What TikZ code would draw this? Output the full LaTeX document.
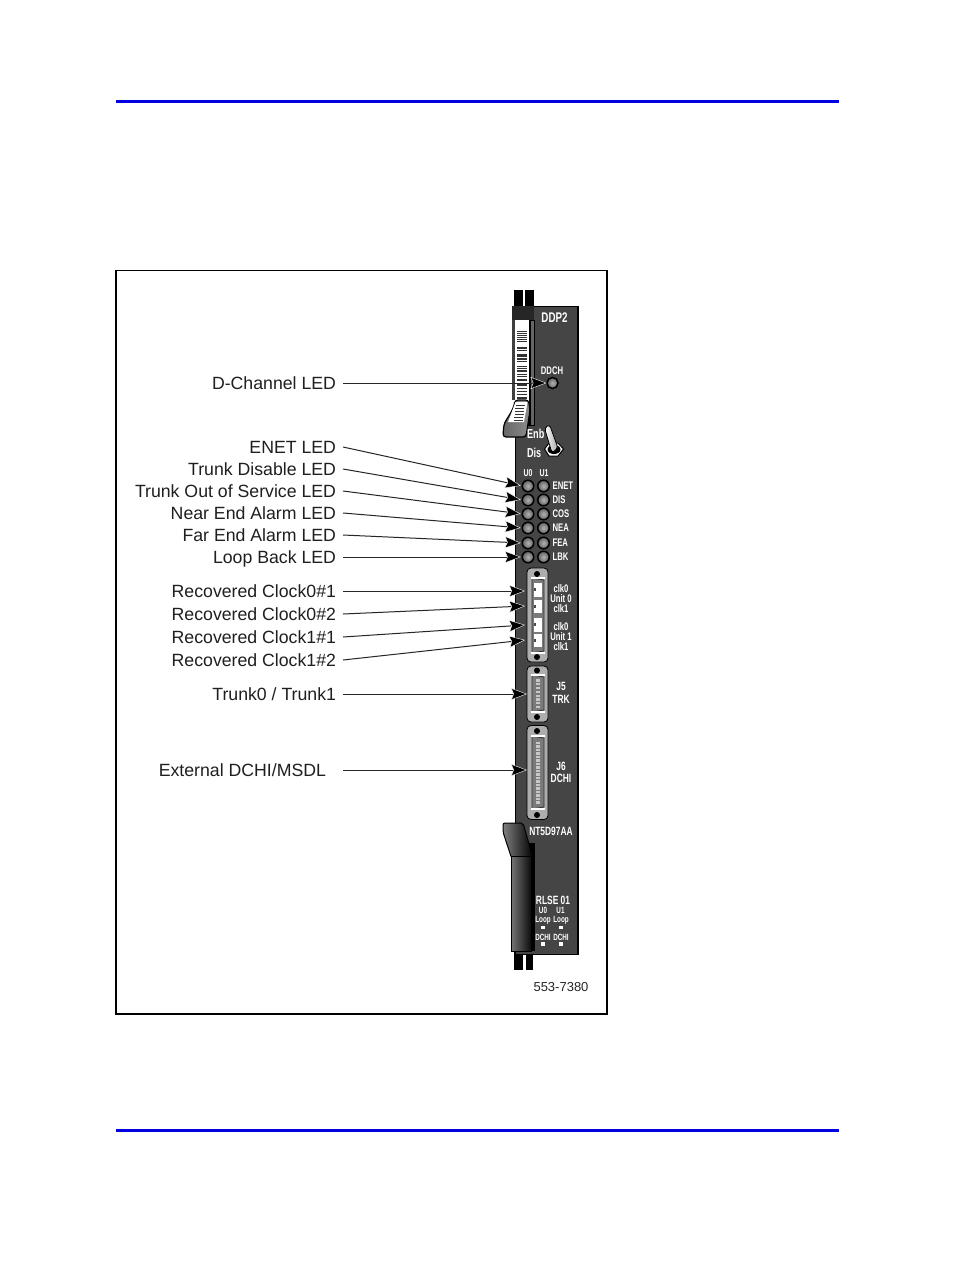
\documentclass[tikz,border=0pt]{standalone}
\usepackage{fontspec}
\setmainfont{Liberation Sans}
\usetikzlibrary{arrows.meta}
\definecolor{panelgray}{gray}{0.27}
\definecolor{plate}{gray}{0.68}
\definecolor{rulecol}{RGB}{0,0,225}
\tikzset{
  callout/.style={anchor=east,inner sep=0pt,outer xsep=7pt,text height=13pt,text depth=0pt,font=\fontsize{17.7}{20}\selectfont,text=black!88},
  pointer/.style={draw=black!85,line width=1pt,-{Stealth[length=16pt,width=12pt,inset=2.5pt,color=white,fill=black,line width=.4pt]}},
  silk/.style={inner sep=0pt,text=white,font=\fontsize{#1}{#1}\selectfont\bfseries,xscale=.7},
  silk/.default=11,
  ledring/.style={circle,draw=black,line width=1.5pt,inner color=black!30,outer color=black!62,minimum size=11.5pt,inner sep=0pt,outer sep=0pt},
  plateshape/.style={draw=black,line width=.8pt,fill=plate,rounded corners=4pt},
  shell/.style={draw=black!80,line width=.9pt,fill=black!52},
  screw/.style={circle,fill=black,inner sep=0pt,minimum size=6pt},
  pad/.style={fill=white,inner sep=0pt,minimum width=4.5pt,minimum height=3.5pt},
  pin/.style={fill=black!22,inner sep=0pt,minimum width=4pt,minimum height=2.2pt},
  flange/.style={draw=white,line width=1.3pt},
  strap/.style={fill=black},
}
\begin{document}
\begin{tikzpicture}[x=1pt,y=-1pt]
\useasboundingbox (0,0) rectangle (954,1272);
\fill[white] (0,0) rectangle (954,1272);
% page rules and frame
\fill[rulecol] (116,99.5) rectangle (838.5,102.5);
\fill[rulecol] (116,1128.5) rectangle (838.5,1131.5);
\draw[black,line width=1.4pt] (116,270.5) rectangle (607,1014);
% straps
\fill[strap] (514,290) rectangle (523,312);
\fill[strap] (525,290) rectangle (534,312);
\fill[strap] (514,945) rectangle (523,970);
\fill[strap] (526,945) rectangle (533,970);
% panel
\fill[panelgray,draw=black,line width=1.4pt] (515.5,306.5) rectangle (578,954.5);
% top latch
\fill[black!85] (512,306) rectangle (534,322);
\fill[black!60,draw=black,line width=1pt] (528,320) rectangle (534,425);
\fill[black] (528,320) rectangle (531,425);
\fill[black!75] (512,320) rectangle (515,400);
\fill[white] (515,320) rectangle (528.5,402);
\foreach \yy/\hh in {331/1,333/1,335/1,337/1,339/1,341/1,347/2,350/1,354/3,358/2,361/1,366/1,368/1,370/2,374/1,376/1,379/2,384/2,388/1,391/1,394/1,397/2}
  \fill[black!80] (516.5,\yy) rectangle (527,\yy+\hh);
\shade[left color=black!60,middle color=black!8,right color=black!45,draw=black,line width=1.2pt,rounded corners=3pt]
  (515,400) .. controls (513,412) and (505,420) .. (503.5,428) -- (503,437) -- (526,437) -- (530,410) -- (528.5,400) -- cycle;
\fill[white] (515.5,402) -- (508,422) -- (524,422) -- (527.5,402) -- cycle;
\foreach \yy in {405,408,411,414,417,420}
  \fill[black!80] (556-\yy/10,\yy) rectangle (565-\yy/10,\yy+1);
% bottom latch
\fill[black] (527,843) rectangle (535,951);
\shade[left color=black!50,right color=black,draw=black,line width=1pt,rounded corners=2pt]
  (503,823) -- (523,823) -- (533,858) -- (511.5,858) -- (503,832) -- cycle;
\shade[left color=black!55,middle color=black!75,right color=black!95,draw=black,line width=.8pt]
  (511.5,856) rectangle (531,951);
% panel text
\node[silk=14] (tDDP) at (554.5,318) {DDP2};
\node[silk=11] (tDDCH) at (552,371) {DDCH};
\node[ledring,minimum size=11pt] (ledD) at (552.5,383) {};
\node[silk=13,anchor=west] (tEnb) at (527,434) {Enb};
\node[silk=13,anchor=west] (tDis) at (527,453) {Dis};
% toggle
\fill[white,draw=black,line width=1pt] (544.5,449) -- (549,443) -- (558,443) -- (563.5,449) -- (558,456) -- (549,456) -- cycle;
\fill[black] (554,449.5) ellipse (6.5pt and 4.5pt);
\shade[left color=white,right color=black!35,draw=black,line width=.8pt,rounded corners=3pt] (544.5,428) -- (549.5,424.5) -- (558,448) -- (552,453) -- cycle;
% LED block
\node[silk=10] (tU0) at (528,473.5) {U0};
\node[silk=10] (tU1) at (544,473.5) {U1};
\foreach \n/\yy/\txt in {1/486/ENET,2/500/DIS,3/514/COS,4/528/NEA,5/543/FEA,6/557/LBK}{
  \node[ledring] (ledA\n) at (528,\yy) {};
  \node[ledring] (ledB\n) at (543.5,\yy) {};
  \node[silk=11,anchor=west] (led\txt) at (552.5,\yy) {\txt};
}
% Unit clock connector
\draw[plateshape] (527,568) rectangle (548,662);
\node[screw] (sa1) at (537,574) {};
\node[screw] (sa2) at (537,657) {};
\fill[shell] (532,578) -- (544,580) -- (544,651) -- (532,653) -- cycle;
\draw[flange] (531,578) -- (545,578);
\draw[flange] (531,653) -- (545,653);
\foreach \n/\yy in {1/590,2/606.5,3/625,4/640.5}{
  \node[fill=white,inner sep=0pt,minimum width=8pt,minimum height=13.5pt] (jack\n) at (537.5,\yy) {};
  \fill[black!70] (533.5,\yy-2) rectangle (536,\yy+1);
}
\node[silk=11] (c1) at (561,589) {clk0};
\node[silk=11] (c2) at (561,598.5) {Unit 0};
\node[silk=11] (c3) at (561,609) {clk1};
\node[silk=11] (c4) at (561,627) {clk0};
\node[silk=11] (c5) at (561,636.5) {Unit 1};
\node[silk=11] (c6) at (561,647) {clk1};
% J5
\draw[plateshape] (527,666) rectangle (548,722);
\node[screw] (sb1) at (537,670.5) {};
\node[screw] (sb2) at (537,717) {};
\fill[shell] (532,675) -- (544,677) -- (544,710) -- (532,712) -- cycle;
\draw[flange] (531,675) -- (545,675);
\draw[flange] (531,712) -- (545,712);
\foreach \k in {0,...,7}{\node[pin] (pinb\k) at (538,680.5+\k*3.8) {};}
\node[silk=12] (tJ5) at (561,686) {J5};
\node[silk=12] (tTRK) at (561,699) {TRK};
% J6
\draw[plateshape] (527,725.5) rectangle (548,819.5);
\node[screw] (sc1) at (537,731) {};
\node[screw] (sc2) at (537,815) {};
\fill[shell] (532,736) -- (544,738) -- (544,807) -- (532,809) -- cycle;
\draw[flange] (531,736) -- (545,736);
\draw[flange] (531,809) -- (545,809);
\foreach \k in {0,...,17}{\node[pin] (pinc\k) at (538,743+\k*3.5) {};}
\node[silk=12] (tJ6) at (561,766) {J6};
\node[silk=12] (tDCHI) at (561,778.5) {DCHI};
% bottom text
\node[silk=12] (tNT) at (551,831.5) {NT5D97AA};
\node[silk=12] (tRL) at (553,900) {RLSE 01};
\node[silk=9] (tb1) at (543,910.5) {U0};
\node[silk=9] (tb2) at (560.5,910.5) {U1};
\node[silk=9] (tb3) at (543,920) {Loop};
\node[silk=9] (tb4) at (561,920) {Loop};
\node[pad] (sq1) at (543,927.5) {};
\node[pad] (sq2) at (561,927.5) {};
\node[silk=9] (tb5) at (543,937) {DCHI};
\node[silk=9] (tb6) at (561,937) {DCHI};
\node[pad] (sq3) at (543,944) {};
\node[pad] (sq4) at (561,944) {};
% pointer ends on the connectors
\coordinate (pj1) at (525,591);
\coordinate (pj2) at (525,606);
\coordinate (pj3) at (525,625);
\coordinate (pj4) at (525,640);
\coordinate (pj5) at (527,694);
\coordinate (pj6) at (527,770);
% callouts
\node[callout] (lD) at (343,383) {D-Channel LED};
\node[callout] (l1) at (343,447) {ENET LED};
\node[callout] (l2) at (343,469) {Trunk Disable LED};
\node[callout] (l3) at (343,491) {Trunk Out of Service LED};
\node[callout] (l4) at (343,513) {Near End Alarm LED};
\node[callout] (l5) at (343,535) {Far End Alarm LED};
\node[callout] (l6) at (343,557) {Loop Back LED};
\node[callout] (r1) at (343,591) {Recovered Clock0\#1};
\node[callout] (r2) at (343,614) {Recovered Clock0\#2};
\node[callout] (r3) at (343,637) {Recovered Clock1\#1};
\node[callout] (r4) at (343,660) {Recovered Clock1\#2};
\node[callout] (t1) at (343,694) {Trunk0 / Trunk1};
\node[callout,outer xsep=17pt] (e1) at (343,770) {External DCHI/MSDL};
% pointers
\draw[pointer,shorten >=.5pt] (lD.east) -- (ledD.west);
\foreach \a/\b in {l1/ledA1,l2/ledA2,l3/ledA3,l4/ledA4,l5/ledA5,l6/ledA6}
  \draw[pointer,shorten >=1.5pt] (\a.east) -- (\b.west);
\foreach \a/\b in {r1/pj1,r2/pj2,r3/pj3,r4/pj4,t1/pj5,e1/pj6}
  \draw[pointer] (\a.east) -- (\b);
\node[inner sep=0pt,font=\fontsize{13}{15}\selectfont,text=black!85] (fig) at (561,987.5) {553-7380};
\end{tikzpicture}
\end{document}
